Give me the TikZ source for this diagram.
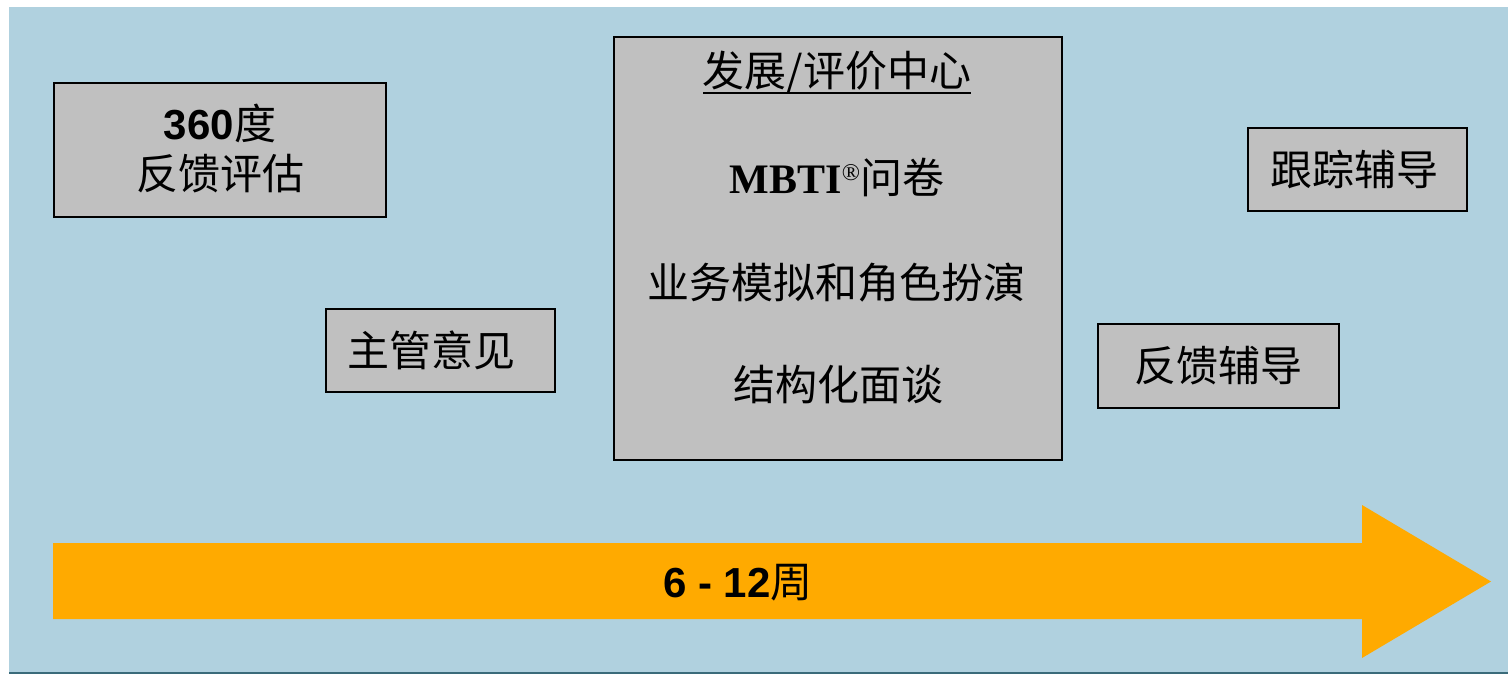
\documentclass[tikz,border=0pt]{standalone}
\usepackage{fontspec}
\setmainfont{Noto Sans CJK SC}
\newfontfamily\arialb{Liberation Sans}[BoldFont=* Bold]
\newfontfamily\timesf{Liberation Serif}[BoldFont=* Bold]
\definecolor{bgblue}{HTML}{B0D1DF}
\definecolor{bottomline}{HTML}{3A6B7A}
\definecolor{boxgray}{HTML}{C0C0C0}
\definecolor{arroworange}{HTML}{FFAA00}
\tikzset{
  graybox/.style={draw=black, line width=1.5pt, fill=boxgray, inner sep=0pt},
  lbl/.style={inner sep=0pt, align=center, font=\fontsize{42}{54}\selectfont},
}
\begin{document}
\begin{tikzpicture}[x=1pt,y=-1pt]
\useasboundingbox (0,0) rectangle (1508,674);
% background
\fill[bgblue] (9,7) rectangle (1508,674);
\fill[bottomline] (9,672) rectangle (1508,674);
% timeline arrow
\fill[arroworange] (53,543) -- (1362,543) -- (1362,505) -- (1491,581.5) -- (1362,658) -- (1362,619) -- (53,619) -- cycle;
\node[lbl] (weeks) at (738,583) {{\arialb\bfseries 6 - 12}周};
% left boxes
\node[graybox, minimum width=332pt, minimum height=134pt] (b360) at (220,150) {};
\node[lbl] (t360) at (220,148) {{\arialb\bfseries 360}度\\[-4pt]反馈评估};
\node[graybox, lbl, minimum width=229pt, minimum height=83pt] (boss) at (440.5,350.5) {主管意见\hspace*{18pt}};
% center box
\node[graybox, minimum width=448pt, minimum height=423pt] (center) at (838,248.5) {};
\node[lbl] (title) at (837,73) {发展/评价中心};
\draw[line width=1.8pt] ([shift={(-134,20)}]title.center) -- ([shift={(134,20)}]title.center);
\node[lbl] (mbti) at (837,177) {{\timesf\bfseries MBTI\raisebox{13pt}{\mdseries\fontsize{24}{24}\selectfont ®}}问卷};
\node[lbl] (sim) at (836,283) {业务模拟和角色扮演};
\node[lbl] (interview) at (838,385) {结构化面谈};
% right boxes
\node[graybox, lbl, minimum width=219pt, minimum height=83pt] (track) at (1357.5,169.5) {跟踪辅导\hspace*{6pt}};
\node[graybox, lbl, minimum width=241pt, minimum height=84pt] (fb) at (1218.5,366) {反馈辅导};
\end{tikzpicture}
\end{document}
